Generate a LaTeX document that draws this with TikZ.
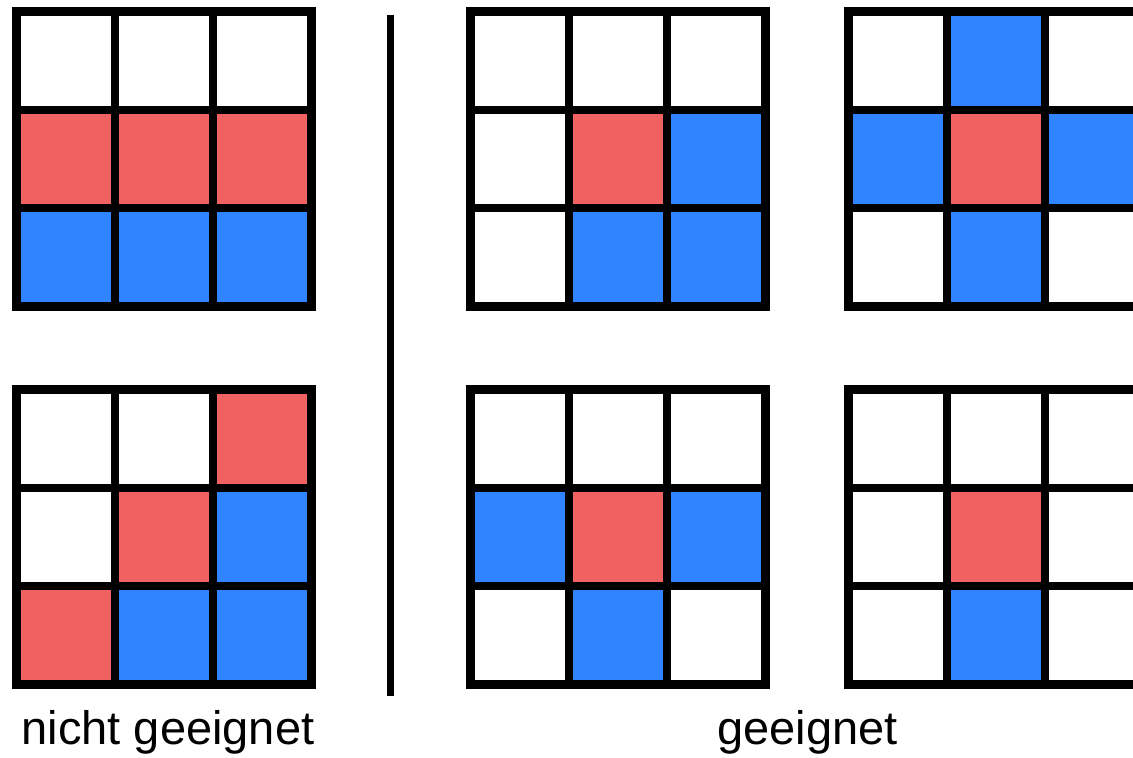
\documentclass[tikz,border=0pt]{standalone}
\usepackage{fontspec}
\setmainfont{Liberation Sans}
\definecolor{tilered}{HTML}{F06161}
\definecolor{tileblue}{HTML}{3084FF}
\def\pitch{98.333}
\tikzset{
  gridline/.style={line width=8.5pt, black},
  divider/.style={line width=7pt, black},
  caption/.style={anchor=base, font=\fontsize{47}{52}\selectfont, inner sep=0pt},
  pics/board/.style={code={
    \foreach \c [count=\i from 0] in {#1} {
      \pgfmathtruncatemacro\cx{mod(\i,3)}
      \pgfmathtruncatemacro\cy{div(\i,3)}
      \fill[fill=\c] (\cx*\pitch,\cy*\pitch) rectangle ++(\pitch,\pitch);
    }
    \foreach \k in {1,2} {
      \draw[gridline] (\k*\pitch,0) -- (\k*\pitch,3*\pitch);
      \draw[gridline] (0,\k*\pitch) -- (3*\pitch,\k*\pitch);
    }
    \draw[gridline] (0,0) rectangle (3*\pitch,3*\pitch);
  }}
}
\begin{document}
\begin{tikzpicture}[x=1pt, y=-1pt]
  \useasboundingbox (0,0) rectangle (1133,758);
  \clip (0,0) rectangle (1133,758);
  \fill[white] (0,0) rectangle (1133,758);

  % unsuitable patterns (left column)
  \pic at (16.5,11.5) {board={white,white,white,tilered,tilered,tilered,tileblue,tileblue,tileblue}};
  \pic at (16.5,389.5) {board={white,white,tilered,white,tilered,tileblue,tilered,tileblue,tileblue}};

  % divider between the two groups
  \coordinate (divtop) at (390.5,15);
  \coordinate (divbot) at (390.5,696);
  \draw[divider] (divtop) -- (divbot);

  % suitable patterns (right columns)
  \pic at (470.5,11.5) {board={white,white,white,white,tilered,tileblue,white,tileblue,tileblue}};
  \pic at (848.5,11.5) {board={white,tileblue,white,tileblue,tilered,tileblue,white,tileblue,white}};
  \pic at (470.5,389.5) {board={white,white,white,tileblue,tilered,tileblue,white,tileblue,white}};
  \pic at (848.5,389.5) {board={white,white,white,white,tilered,white,white,tileblue,white}};

  % captions
  \node[caption] (bad) at (168,744) {nicht geeignet};
  \node[caption] (good) at (807.5,744) {geeignet};
\end{tikzpicture}
\end{document}
